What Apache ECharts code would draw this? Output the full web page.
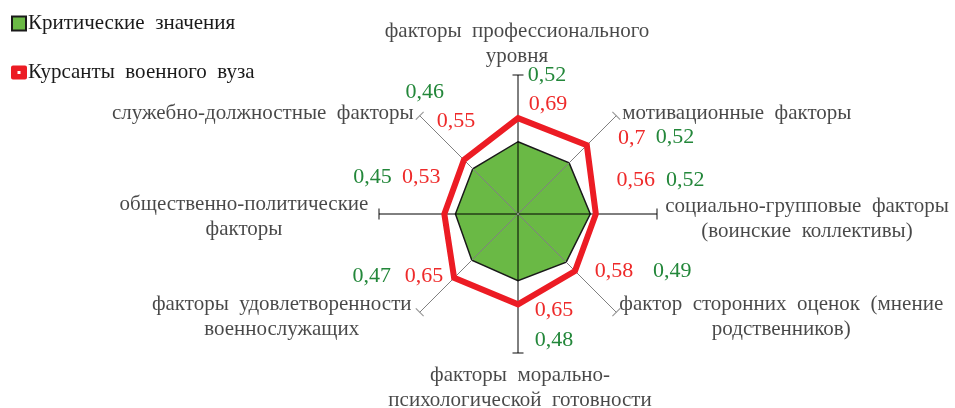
<!DOCTYPE html>
<html><head><meta charset="utf-8">
<script src="https://cdn.jsdelivr.net/npm/echarts@6/dist/echarts.min.js"></script>
<style>html,body{margin:0;padding:0;background:#fff}#c{width:955px;height:408px}</style>
</head><body><div id="c"></div>
<script>
// ---- data ----
const categories = [
  'факторы  профессионального\nуровня',
  'мотивационные  факторы',
  'социально-групповые  факторы\n(воинские  коллективы)',
  'фактор  сторонних  оценок  (мнение\nродственников)',
  'факторы  морально-\nпсихологической  готовности',
  'факторы  удовлетворенности\nвоеннослужащих',
  'общественно-политические\nфакторы',
  'служебно-должностные  факторы'
];
const criticalValues = [0.52, 0.52, 0.52, 0.49, 0.48, 0.47, 0.45, 0.46];
const cadetValues    = [0.69, 0.7, 0.56, 0.58, 0.65, 0.65, 0.53, 0.55];
const seriesNames = ['Критические  значения', 'Курсанты  военного  вуза'];

// ---- layout (label offsets) ----
const criticalLabelOffsets = [[29,-67],[106,-26],[95,-34],[106,9],[36,59],[-100,16],[-83,-37],[-48,-77]];
const cadetLabelOffsets    = [[30,-14],[45,-7],[40,-34],[39,0],[36,6],[-30,-2],[-23,-37],[-8,-39]];
const nameLayout = [
  {align:'center', offset:[-1,-31]},
  {align:'left',   offset:[6,-2]},
  {align:'center', offset:[150,5]},
  {align:'center', offset:[165,5]},
  {align:'center', offset:[2,35]},
  {align:'center', offset:[-138,5]},
  {align:'center', offset:[-135,3]},
  {align:'right',  offset:[-6,-2]}
];

const FONT = '"Liberation Serif", "Times New Roman", serif';
const step = 360 / categories.length;
const fmt = v => String(v).replace('.', ',');

function ring(vals, offs) {
  const d = vals.map((v, i) => ({ value: [v, i * step], label: { offset: offs[i] } }));
  d.push({ value: [vals[0], 360], label: { show: false } });
  d.push({ value: [vals[1], 360 + step], label: { show: false } });
  return d;
}

const chart = echarts.init(document.getElementById('c'), null, { renderer: 'canvas' });
chart.setOption({
  animation: false,
  backgroundColor: '#fff',
  legend: {
    orient: 'vertical', left: 11, top: 13, padding: 0, itemWidth: 16, itemHeight: 14, itemGap: 28,
    selectedMode: false,
    textStyle: { fontFamily: FONT, fontSize: 21, color: '#1a1a1a', padding: [0, 0, 0, -4] },
    data: [
      { name: seriesNames[0], icon: 'path://M1,1L13,1L13,13L1,13Z', itemStyle: { color: '#6ab945', borderColor: '#1a1a1a', borderWidth: 2 } },
      { name: seriesNames[1], icon: 'path://M2,0L14,0Q16,0 16,2L16,12Q16,14 14,14L2,14Q0,14 0,12L0,2Q0,0 2,0ZM6.5,5.5L6.5,8.5L9.5,8.5L9.5,5.5Z',
        itemStyle: { color: '#ec1c24', borderWidth: 0 } }
    ]
  },
  polar: { center: [518, 214], radius: 139 },
  angleAxis: {
    type: 'value', min: 0, max: 360, interval: step, startAngle: 90, clockwise: true, z: 3,
    axisLine: { show: false }, axisTick: { show: false }, axisLabel: { show: false },
    splitLine: { show: true, lineStyle: { color: ['#000000', '#808080'], width: 1 } }
  },
  radiusAxis: {
    min: 0, max: 1,
    axisLine: { show: false }, axisTick: { show: false }, axisLabel: { show: false }, splitLine: { show: false }
  },
  series: [
    {
      name: seriesNames[0], type: 'line', coordinateSystem: 'polar', z: 2,
      data: ring(criticalValues, criticalLabelOffsets),
      symbol: 'circle', symbolSize: 1, itemStyle: { color: 'rgba(0,0,0,0)' },
      lineStyle: { color: '#1a1a1a', width: 1.5, join: 'miter' },
      areaStyle: { color: '#6ab945', opacity: 1 },
      label: { show: true, position: 'inside', align: 'center', verticalAlign: 'middle',
        color: '#23873a', fontFamily: FONT, fontSize: 22, formatter: p => fmt(p.value[0]) }
    },
    {
      name: seriesNames[1], type: 'line', coordinateSystem: 'polar', z: 4,
      data: ring(cadetValues, cadetLabelOffsets),
      symbol: 'circle', symbolSize: 1, itemStyle: { color: 'rgba(0,0,0,0)' },
      lineStyle: { color: '#ec1c24', width: 6, join: 'miter' },
      label: { show: true, position: 'inside', align: 'center', verticalAlign: 'middle',
        color: '#ee2a2a', fontFamily: FONT, fontSize: 22, formatter: p => fmt(p.value[0]) }
    },
    {
      name: 'caps', type: 'scatter', coordinateSystem: 'polar', z: 3, silent: true,
      symbol: 'rect', symbolSize: [11, 1.2],
      data: categories.map((c, i) => ({ value: [1, i * step], symbolRotate: -i * step,
        itemStyle: { color: i % 2 ? '#808080' : '#000000' } }))
    },
    {
      name: 'names', type: 'scatter', coordinateSystem: 'polar', z: 5, silent: true,
      symbol: 'circle', symbolSize: 1, itemStyle: { color: 'rgba(0,0,0,0)' },
      label: { show: true, position: 'inside', verticalAlign: 'middle', color: '#1a1a1a',
        fontFamily: FONT, fontSize: 21, lineHeight: 25, formatter: p => p.name },
      data: categories.map((c, i) => ({ name: c, value: [1, i * step],
        label: { align: nameLayout[i].align, offset: nameLayout[i].offset } }))
    }
  ]
});
</script>
</body></html>
